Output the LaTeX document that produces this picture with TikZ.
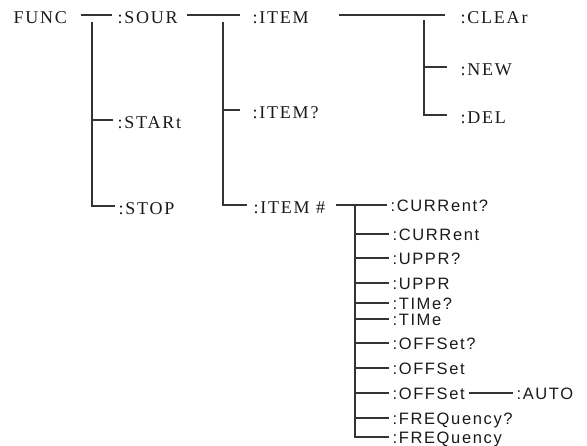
\documentclass[tikz,border=0pt]{standalone}
\usepackage{fontspec}
\setmainfont{Liberation Serif}[LetterSpace=10]
\newfontfamily\lowfont{Liberation Sans}[LetterSpace=10]
\usepackage{tikz}

\begin{document}
\begin{tikzpicture}[x=1pt,y=-1pt,line width=1.1pt,draw=black!80,
top/.style={inner sep=0pt,anchor=west,text height=17pt,text depth=0pt,text=black!90,font=\fontsize{18}{18}\selectfont},
low/.style={inner sep=0pt,anchor=west,text height=12pt,text depth=0pt,text=black!90,font=\lowfont\fontsize{16.5}{16.5}\selectfont}]
\useasboundingbox(0,0)rectangle(587,445);
\node[top](func)at(13,15){FUNC};
\node[top](sour)at(117,15){:SOUR};
\node[top](start)at(117,120){:STARt};
\node[top](stop)at(118,206){:STOP};
\node[top](item)at(252,15){:ITEM};
\node[top](itemq)at(252,110){:ITEM?};
\node[top](itemn)at(253,205){:ITEM \#};
\node[top](clear)at(460,15){:CLEAr};
\node[top](new)at(460,67){:NEW};
\node[top](del)at(460,115){:DEL};
\node[low](cura)at(390,205){:CURRent?};
\node[low](cur)at(392,234){:CURRent};
\node[low](uppra)at(392,258){:UPPR?};
\node[low](uppr)at(392,283){:UPPR};
\node[low](timea)at(392,303){:TIMe?};
\node[low](time)at(392,319){:TIMe};
\node[low](offa)at(392,343){:OFFSet?};
\node[low](off)at(392,368){:OFFSet};
\node[low](offb)at(392,393){:OFFSet};
\node[low](auto)at(516,393){:AUTO};
\node[low](freqa)at(392,418){:FREQuency?};
\node[low](freq)at(392,437){:FREQuency};
\coordinate(j0)at(92,22);
\coordinate(j1)at(223,22);
\coordinate(j2)at(424,20);
\coordinate(j3)at(355,205);
\draw([xshift=13]func.east)--([xshift=-5]sour.west)
(j0)|-([xshift=-4]start.west)
(j0)|-([xshift=-3]stop.west);
\draw([xshift=9]sour.east)--([xshift=-12]item.west)
(j1)|-([xshift=-12]itemq.west)
(j1)|-([xshift=-6]itemn.west);
\draw([xshift=30]item.east)--([xshift=-15]clear.west)
(j2)|-([xshift=-13]new.west)
(j2)|-([xshift=-13]del.west);
\draw([xshift=10]itemn.east)--([xshift=-3]cura.west);
\foreach \n in {cur,uppra,uppr,timea,time,offa,off,offb,freqa,freq}
\draw(j3)|-([xshift=-3]\n.west);
\draw([xshift=4]offb.east)--([xshift=-3]auto.west);
\end{tikzpicture}
\end{document}
